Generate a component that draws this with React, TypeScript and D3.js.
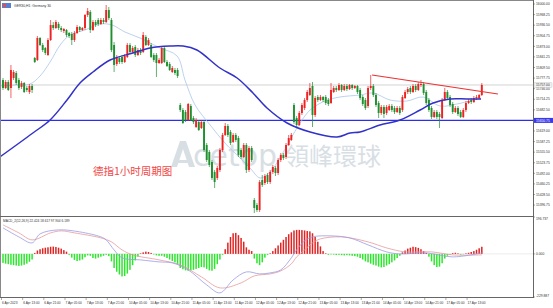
import React from "react";
import * as d3 from "d3";

// ---------- DATA ----------
const chartTitle = "GER30,H1: Germany 30";
const macdTitle = "MACD_2(12,26,9) 22.424 18.617 97.904 6.189";
const noteText = "德指1小时周期图";

// open, high, low, close
const ohlc: number[][] = [
[15772,15778,15742,15748],[15748,15772,15745,15766],[15766,15772,15739,15742],[15748,15817,15718,15802],
[15778,15802,15772,15796],[15793,15799,15757,15763],[15772,15778,15742,15748],[15751,15769,15745,15763],
[15763,15766,15733,15736],[15748,15754,15736,15742],[15736,15760,15730,15754],[15754,15760,15733,15742],
[15838,15841,15823,15826],[15832,15904,15829,15898],[15898,15901,15874,15877],[15877,15883,15856,15862],
[15868,15871,15847,15853],[15847,15898,15844,15892],[15892,15952,15889,15937],[15937,15946,15922,15928],
[15928,15952,15925,15946],[15940,15946,15922,15928],[15928,15934,15916,15922],[15919,15928,15913,15925],
[15922,15925,15901,15907],[15913,15916,15898,15904],[15910,15916,15877,15892],[15892,15919,15886,15913],
[15913,15937,15910,15931],[15931,15934,15916,15922],[15922,15931,15919,15928],[15928,15970,15922,15967],
[15967,15988,15961,15979],[15976,15982,15913,15922],[15922,15952,15919,15946],[15946,15952,15931,15937],
[15952,15958,15934,15940],[15940,15958,15937,15952],[15952,15958,15940,15946],[15946,15997,15943,15982],
[15982,15991,15952,15958],[15952,15958,15856,15862],[15877,15886,15796,15817],[15820,15847,15814,15841],
[15838,15844,15820,15826],[15841,15847,15820,15826],[15826,15850,15823,15844],[15841,15883,15838,15877],
[15877,15883,15850,15856],[15856,15874,15853,15868],[15871,15877,15841,15847],[15847,15868,15844,15862],
[15862,15868,15847,15853],[15856,15916,15853,15907],[15901,15907,15874,15877],[15877,15898,15874,15892],
[15877,15883,15838,15841],[15847,15853,15826,15832],[15847,15853,15781,15823],[15823,15838,15820,15832],
[15823,15874,15820,15868],[15868,15871,15823,15826],[15826,15832,15811,15814],[15820,15826,15799,15802],
[15796,15814,15793,15808],[15802,15808,15787,15793],[15802,15808,15778,15784],[15697,15703,15676,15682],
[15682,15688,15640,15643],[15676,15682,15646,15652],[15652,15703,15649,15700],[15694,15700,15649,15652],
[15658,15664,15640,15646],[15631,15658,15628,15652],[15646,15652,15619,15622],[15628,15652,15625,15646],
[15646,15652,15556,15562],[15577,15583,15526,15532],[15556,15562,15511,15517],[15526,15532,15472,15478],
[15496,15502,15448,15466],[15478,15514,15472,15508],[15502,15568,15496,15562],[15562,15613,15556,15607],
[15607,15643,15604,15634],[15634,15640,15601,15607],[15616,15622,15577,15583],[15586,15613,15583,15607],
[15607,15613,15586,15592],[15598,15604,15541,15547],[15562,15568,15535,15541],[15541,15583,15538,15577],
[15577,15583,15493,15502],[15502,15574,15496,15568],[15568,15574,15526,15532],[15412,15418,15373,15388],
[15397,15403,15376,15382],[15382,15472,15376,15466],[15472,15487,15451,15457],[15463,15490,15457,15484],
[15487,15493,15460,15466],[15466,15502,15460,15496],[15496,15517,15490,15511],[15508,15514,15484,15493],
[15493,15538,15487,15532],[15532,15553,15526,15547],[15547,15553,15532,15538],[15541,15583,15535,15577],
[15577,15607,15574,15598],[15592,15613,15589,15607],[15697,15703,15640,15646],[15658,15664,15631,15637],
[15637,15679,15634,15673],[15673,15703,15667,15697],[15688,15718,15682,15712],[15712,15742,15706,15736],
[15727,15763,15724,15748],[15754,15766,15631,15667],[15667,15724,15661,15718],[15721,15727,15706,15712],
[15712,15727,15709,15721],[15721,15724,15706,15712],[15721,15727,15697,15703],[15712,15718,15694,15700],
[15703,15763,15700,15742],[15736,15754,15733,15748],[15748,15754,15736,15742],[15742,15763,15739,15757],
[15757,15760,15736,15742],[15742,15760,15739,15754],[15754,15760,15739,15745],[15745,15760,15742,15757],
[15757,15760,15742,15748],[15748,15757,15745,15754],[15754,15757,15730,15736],[15742,15748,15712,15718],
[15721,15727,15694,15700],[15712,15718,15682,15688],[15694,15754,15688,15748],[15748,15787,15742,15754],
[15754,15760,15721,15727],[15727,15733,15691,15697],[15703,15709,15658,15673],[15673,15697,15667,15691],
[15691,15697,15658,15670],[15673,15697,15667,15691],[15682,15700,15679,15694],[15694,15700,15676,15682],
[15688,15694,15670,15676],[15676,15694,15673,15688],[15688,15694,15667,15673],[15682,15727,15676,15721],
[15718,15742,15715,15736],[15736,15751,15730,15745],[15748,15754,15730,15736],[15736,15760,15733,15754],
[15754,15760,15736,15742],[15742,15766,15739,15760],[15757,15772,15751,15760],[15760,15766,15727,15733],
[15736,15742,15697,15703],[15712,15718,15676,15682],[15688,15694,15655,15661],[15661,15682,15658,15676],
[15676,15682,15655,15661],[15670,15676,15628,15661],[15658,15718,15655,15712],[15712,15748,15709,15736],
[15736,15742,15712,15718],[15721,15727,15691,15697],[15700,15706,15670,15676],[15676,15694,15673,15688],
[15688,15694,15664,15670],[15676,15682,15658,15661],[15661,15688,15658,15682],[15682,15709,15676,15703],
[15703,15715,15700,15709],[15712,15718,15700,15706],[15706,15724,15703,15718],[15718,15727,15712,15721],
[15718,15730,15715,15727],[15727,15763,15724,15757],
];

// long moving average (bar index, price)
const maSlow: number[][] = [
[-1.2,15541],[11.3,15613],[17.8,15652],[24.2,15712],[29.1,15763],[34,15796],[40.5,15832],[49.1,15853],
[55.6,15868],[63.1,15874],[68.1,15874],[73.3,15862],[82,15808],[88.5,15778],[94.5,15733],[99.8,15688],
[107.4,15643],[116.1,15616],[126.3,15601],[131.2,15613],[135,15616],[142.5,15637],[150.1,15652],
[157.7,15682],[162.6,15703],[169,15715],[175.4,15715],[180.7,15715],
];
// short moving average (bar index, price)
const maFast: number[][] = [
[-1.2,15754],[4.5,15757],[10.2,15760],[14,15784],[17.8,15826],[21.6,15877],[25.3,15907],[31,15922],
[36.7,15940],[41.2,15937],[46.1,15916],[51.8,15898],[59.4,15868],[65.8,15844],[68.8,15772],[72.6,15697],
[78.3,15637],[83.9,15583],[89.6,15538],[93.4,15508],[97.2,15478],[100.9,15496],[104.7,15538],[108.5,15592],
[112.3,15643],[116.1,15682],[121.7,15709],[127.4,15721],[135,15727],[139.9,15733],[146.3,15712],
[152.7,15709],[158.8,15721],[165.2,15694],[171.6,15700],[177.7,15712],[180.7,15718],
];

const supportLevel = 15650.75;
const trendLine: number[][] = [[139.5,15787],[187.1,15730]];

const priceTicks = [16000.00,15968.25,15936.50,15904.75,15873.00,15841.25,15809.50,15777.75,15746.00,15714.25,
  15682.50,15650.75,15619.00,15587.25,15555.50,15523.75,15492.00,15460.25,15428.50,15396.75];

const macdHist = [
-48,-52,-55,-58,-60,-62,-64,-62,-58,-52,-42,-30,
5,18,25,30,33,35,38,39,37,33,28,20,12,
-5,-20,-32,-38,-35,-30,-18,-8,-10,-22,-25,-20,-15,-10,-5,-12,
-40,-75,-95,-110,-120,-118,-105,-85,-60,-35,-15,
3,8,12,10,5,-3,-8,-10,
-10,-15,-22,-30,-38,-45,-55,
-75,-82,-88,-90,-88,-85,-80,-75,-70,-72,-80,-88,-90,-80,-55,-30,-5,
25,60,90,110,112,100,85,65,35,22,15,
-25,-50,-60,-45,-20,-5,3,
15,30,45,60,75,90,105,115,125,128,128,127,125,122,120,110,90,65,40,15,3,
-5,-3,-4,-6,-5,-7,-8,-7,-8,-10,-12,-15,
-22,-30,-40,-45,-52,-58,-62,-68,-72,-70,-62,-55,-45,-35,-22,-10,
8,18,28,33,38,36,32,25,15,5,
-15,-40,-60,-70,-68,-50,-25,-10,
-3,4,6,3,-4,-2,3,
6,10,15,22,30,38,
];

const macdMain: number[][] = [
[0,138.7],[6,90.7],[11,58.7],[14,106.7],[21,128],[29,117.3],[37,90.7],[39,74.7],[42,21.3],[45,-21.3],
[52,-32],[59,-42.7],[64,-48],[70,-85.3],[77,-165.3],[82,-208],[87,-138.7],[92,-96],[97,-106.7],[101,-101.3],
[105,-85.3],[109,-21.3],[111,21.3],[114,69.3],[117,90.7],[124,96],[131,85.3],[138,48],[145,10.7],[150,0],
[160,5.3],[170,-16],[181,5.3],
];
const macdSignal: number[][] = [
[0,154.7],[6,112],[11,74.7],[18,112],[22,122.7],[27,112],[37,85.3],[41,64],[45,21.3],[49,-5.3],
[59,-32],[67,-58.7],[75,-122.7],[82,-181.3],[90,-154.7],[95,-117.3],[101,-106.7],[105,-90.7],[109,-53.3],
[111,-16],[114,21.3],[117,58.7],[120,80],[128,90.7],[138,64],[145,32],[152,10.7],[162,10.7],[170,-5.3],
[181,-5.3],
];
const macdTicks = [196.737, 0, -229.887];

const dateLabels = ["6 Apr 2023","6 Apr 13:00","6 Apr 21:00","7 Apr 05:00","7 Apr 13:00","7 Apr 21:00",
  "10 Apr 05:00","10 Apr 13:00","10 Apr 21:00","11 Apr 05:00","11 Apr 13:00","11 Apr 21:00","12 Apr 05:00",
  "12 Apr 13:00","12 Apr 21:00","13 Apr 05:00","13 Apr 13:00","13 Apr 21:00","14 Apr 05:00","14 Apr 13:00",
  "14 Apr 21:00","17 Apr 05:00","17 Apr 13:00"];
const barsPerLabel = 8;

// ---------- LAYOUT ----------
const W = 553, H = 308;
const plotL = 0, plotR = 533;
const mainTop = 1, mainBot = 216;
const macdTop = 217, macdBot = 297;

const UP = "#ee2222", DOWN = "#1f8f2f";
const FONT = "'Liberation Sans', Arial, sans-serif";

export default function App() {
  React.useEffect(() => { document.body.style.margin = "0"; }, []);
  const n = ohlc.length;
  const x = d3.scaleLinear().domain([0, n - 1]).range([3, 481.8]);
  const y = d3.scaleLinear().domain([15364, 16009]).range([mainBot, mainTop]);
  const ym = d3.scaleLinear().domain([-229.887, 196.737]).range([macdBot, macdTop]);

  const maLine = d3.line<number[]>().x(d => x(d[0])).y(d => y(d[1])).curve(d3.curveCatmullRom);
  const mLine = d3.line<number[]>().x(d => x(d[0])).y(d => ym(d[1])).curve(d3.curveCatmullRom);
  const last = ohlc[n - 1][3];
  const bw = 1.9;

  return (
    <svg width={W} height={H} style={{ position: "absolute", left: 0, top: 0, background: "#fff" }}
      fontFamily={FONT}>
      <defs>
        <clipPath id="mainClip"><rect x={plotL} y={mainTop} width={plotR - plotL} height={mainBot - mainTop} /></clipPath>
        <clipPath id="macdClip"><rect x={plotL} y={macdTop} width={plotR - plotL} height={macdBot - macdTop} /></clipPath>
      </defs>

      {/* watermark */}
      <g opacity={0.55}>
        <path d="M171,167 L180,141 L186,141 L195,167 L189,167 L183,149 L177,167 Z" fill="#b9c6cf" />
        <path d="M174,160 L192,160 L192,163 L174,163 Z" fill="#b9c6cf" />
        <text x={193} y={166} fontSize={30} fill="#b9c6cf" fontFamily="'DejaVu Sans', sans-serif">cetop</text>
        <text x={285} y={165} fontSize={24} fill="#b9c6cf" fontFamily="'Noto Sans CJK TC', sans-serif">領峰環球</text>
      </g>

      {/* main panel */}
      <g clipPath="url(#mainClip)">
        <line x1={plotL} x2={plotR} y1={y(last)} y2={y(last)} stroke="#c8c8c8" strokeWidth={0.8} />
        <line x1={plotL} x2={plotR} y1={y(supportLevel)} y2={y(supportLevel)} stroke="#2d2df0" strokeWidth={1.4} />
        <path d={maLine(maFast) || ""} fill="none" stroke="#aac6ea" strokeWidth={0.8} />
        {ohlc.map((d, i) => {
          const [o, h, l, c] = d;
          const col = c >= o ? UP : DOWN;
          const top = y(Math.max(o, c)), bot = y(Math.min(o, c));
          return (
            <g key={i}>
              <line x1={x(i)} x2={x(i)} y1={y(h)} y2={y(l)} stroke={col} strokeWidth={0.7} />
              <rect x={x(i) - bw / 2} y={top} width={bw} height={Math.max(0.8, bot - top)} fill={col} />
            </g>
          );
        })}
        <path d={maLine(maSlow) || ""} fill="none" stroke="#3232c8" strokeWidth={1.5} />
        <line x1={x(trendLine[0][0])} y1={y(trendLine[0][1])} x2={x(trendLine[1][0])} y2={y(trendLine[1][1])}
          stroke="#f03030" strokeWidth={1.2} />
      </g>

      <text x={93} y={175} fontSize={10.5} fill="#f04848" fontFamily="'Noto Sans CJK SC', sans-serif">{noteText}</text>

      {/* title */}
      <rect x={2} y={3} width={9} height={5} fill="#5a7fcf" />
      <rect x={3} y={4} width={3} height={3} fill="#e05050" />
      <text x={14} y={7.2} fontSize={3.4} fill="#333">{chartTitle}</text>

      {/* MACD panel */}
      <line x1={plotL} x2={plotR} y1={ym(0)} y2={ym(0)} stroke="#dddddd" strokeWidth={0.6} />
      <g clipPath="url(#macdClip)">
        {macdHist.map((v, i) => (
          <rect key={i} x={x(i) - 0.75} width={1.5}
            y={v >= 0 ? ym(v) : ym(0)} height={Math.abs(ym(v) - ym(0))}
            fill={v >= 0 ? "#e02424" : "#2ee62e"} />
        ))}
        <path d={mLine(macdSignal) || ""} fill="none" stroke="#e79a9a" strokeWidth={0.8} />
        <path d={mLine(macdMain) || ""} fill="none" stroke="#9a9ae6" strokeWidth={0.8} />
      </g>
      <text x={3} y={222} fontSize={3.2} fill="#333">{macdTitle}</text>

      {/* frame */}
      <line x1={0} x2={plotR} y1={0.5} y2={0.5} stroke="#888" strokeWidth={1} />
      <line x1={0.5} x2={0.5} y1={0} y2={macdBot} stroke="#888" strokeWidth={1} />
      <line x1={0} x2={plotR} y1={mainBot + 0.5} y2={mainBot + 0.5} stroke="#666" strokeWidth={1} />
      <line x1={0} x2={plotR} y1={macdBot + 0.5} y2={macdBot + 0.5} stroke="#666" strokeWidth={1} />
      <line x1={plotR + 0.5} x2={plotR + 0.5} y1={0} y2={macdBot + 1} stroke="#666" strokeWidth={1} />

      {/* price axis */}
      {priceTicks.map((t, i) => (
        <g key={i}>
          <line x1={plotR} x2={plotR + 2} y1={y(t)} y2={y(t)} stroke="#555" strokeWidth={0.5} />
          <text x={536} y={y(t) + 1.2} fontSize={3.3} fill="#333">{t.toFixed(2)}</text>
        </g>
      ))}
      <rect x={534} y={y(last) - 2.2} width={18} height={4.4} fill="#f2f2f2" stroke="#bbb" strokeWidth={0.4} />
      <text x={536} y={y(last) + 1.2} fontSize={3.3} fill="#333">{last.toFixed(2)}</text>
      <rect x={534} y={y(supportLevel) - 2.5} width={19} height={5} fill="#3a3ae8" />
      <text x={536} y={y(supportLevel) + 1.2} fontSize={3.3} fill="#fff">{supportLevel.toFixed(2)}</text>

      {/* macd axis */}
      {macdTicks.map((t, i) => (
        <g key={i}>
          <line x1={plotR} x2={plotR + 2} y1={ym(t)} y2={ym(t)} stroke="#555" strokeWidth={0.5} />
          <text x={536} y={ym(t) + (i === 0 ? 2.5 : i === 2 ? 0 : 1.2)} fontSize={3.3} fill="#333">{t.toFixed(3)}</text>
        </g>
      ))}

      {/* time axis */}
      {dateLabels.map((s, k) => {
        const xx = x(k * barsPerLabel) - 2;
        return (
          <g key={k}>
            <line x1={xx + 0.5} x2={xx + 0.5} y1={macdBot + 1} y2={macdBot + 3} stroke="#555" strokeWidth={0.5} />
            <text x={xx + 1} y={304} fontSize={3.2} fill="#333">{s}</text>
          </g>
        );
      })}
    </svg>
  );
}
